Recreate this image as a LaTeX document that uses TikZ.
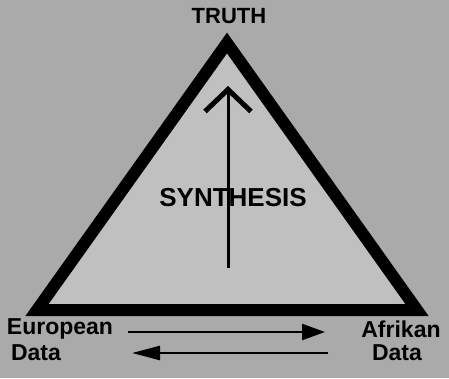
\documentclass[tikz,border=0pt]{standalone}
\usepackage{fontspec}
\setmainfont{Liberation Sans}
\usepackage{xcolor}
\definecolor{scangray}{RGB}{170,170,170}
\definecolor{innergray}{RGB}{192,192,192}
\usetikzlibrary{arrows.meta,positioning}

\begin{document}
\begin{tikzpicture}[x=1pt,y=-1pt,
  lbl/.style={font=\fontsize{23}{25}\selectfont\bfseries,inner sep=0pt},
  flow/.style={line width=2.5pt}]
  \fill[scangray] (0,0) rectangle (449,378);
  \useasboundingbox (0,0) rectangle (449,378);
  \coordinate (apex) at (227,43);
  \coordinate (left) at (37,310);
  \coordinate (right) at (417,310);
  \filldraw[fill=innergray,line width=12pt,line join=miter] (apex) -- (left) -- (right) -- cycle;
  \node[lbl,font=\fontsize{22}{24}\selectfont\bfseries] (truth) at (229,16) {TRUTH};
  \node[lbl,font=\fontsize{26}{28}\selectfont\bfseries] (synth) at (233,198) {SYNTHESIS};
  \coordinate (base) at (228,268);
  \coordinate (top) at (228,86);
  \draw[line width=3pt,-{Straight Barb[length=22pt,width=46pt,line width=5pt]}] (base) -- (top);
  \node[lbl] (euro) at (60,329) {European};
  \node[lbl] (eurodata) at (36,353) {Data};
  \node[lbl] (afri) at (401,329) {Afrikan};
  \node[lbl] (afridata) at (397,353) {Data};
  \coordinate (r0) at (128,332);
  \coordinate (r1) at (325,332);
  \coordinate (l0) at (328,353);
  \coordinate (l1) at (132,353);
  \draw[flow,-{Triangle[length=23pt,width=16pt]}] (r0) -- (r1);
  \draw[flow,-{Triangle[length=28pt,width=14pt]}] (l0) -- (l1);
\end{tikzpicture}
\end{document}
